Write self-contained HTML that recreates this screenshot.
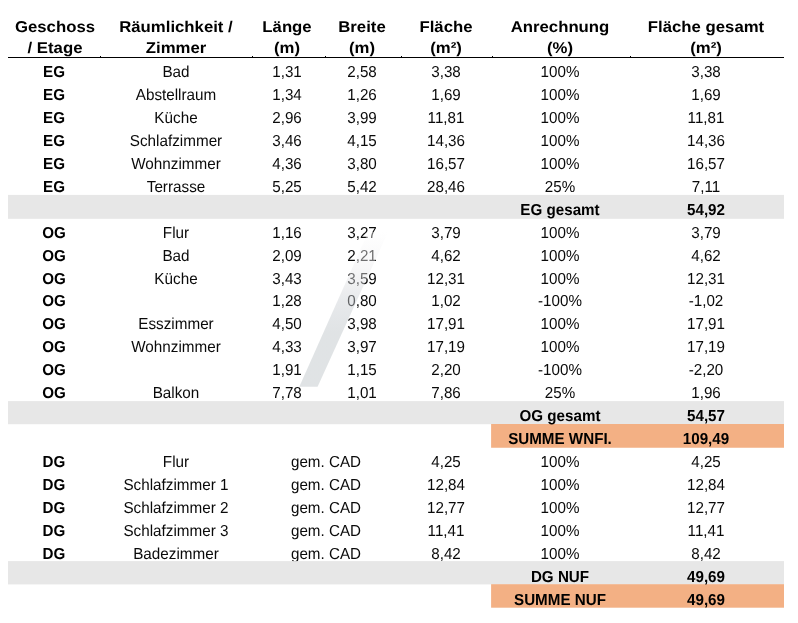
<!DOCTYPE html>
<html lang="de"><head><meta charset="utf-8"><title>Flächenberechnung</title>
<style>
html,body{margin:0;padding:0;background:#fff;}
body{width:798px;height:623px;position:relative;overflow:hidden;font-family:"Liberation Sans",sans-serif;color:#000;}
.t{text-rendering:geometricPrecision;position:absolute;width:300px;line-height:20px;text-align:center;white-space:nowrap;color:#0a0a0a;}
.b{font-weight:bold;color:#000;}
.bg{position:absolute;}
.hl{position:absolute;left:8px;top:57px;width:776px;height:1px;background:#000;}
.tick{position:absolute;top:56px;width:1px;height:1px;background:#000;}
svg.wm{position:absolute;left:0;top:0;}
</style></head><body>
<div class="hl"></div>
<div class="tick" style="left:100px"></div><div class="tick" style="left:252px"></div><div class="tick" style="left:325px"></div><div class="tick" style="left:401px"></div><div class="tick" style="left:492px"></div><div class="tick" style="left:630px"></div>
<div class="t b" style="left:-95.45px;top:18.00px;font-size:15.6px;transform:scaleX(1.074);">Geschoss</div>
<div class="t b" style="left:-95.45px;top:39.00px;font-size:15.6px;transform:scaleX(1.074);">/ Etage</div>
<div class="t b" style="left:25.55px;top:18.00px;font-size:15.6px;transform:scaleX(1.074);">Räumlichkeit /</div>
<div class="t b" style="left:25.55px;top:39.00px;font-size:15.6px;transform:scaleX(1.074);">Zimmer</div>
<div class="t b" style="left:137.40px;top:18.00px;font-size:15.6px;transform:scaleX(1.074);">Länge</div>
<div class="t b" style="left:137.40px;top:39.00px;font-size:15.6px;transform:scaleX(1.074);">(m)</div>
<div class="t b" style="left:211.60px;top:18.00px;font-size:15.6px;transform:scaleX(1.074);">Breite</div>
<div class="t b" style="left:211.60px;top:39.00px;font-size:15.6px;transform:scaleX(1.074);">(m)</div>
<div class="t b" style="left:295.70px;top:18.00px;font-size:15.6px;transform:scaleX(1.074);">Fläche</div>
<div class="t b" style="left:295.70px;top:39.00px;font-size:15.6px;transform:scaleX(1.074);">(m²)</div>
<div class="t b" style="left:409.95px;top:18.00px;font-size:15.6px;transform:scaleX(1.074);">Anrechnung</div>
<div class="t b" style="left:409.95px;top:39.00px;font-size:15.6px;transform:scaleX(1.074);">(%)</div>
<div class="t b" style="left:556.15px;top:18.00px;font-size:15.6px;transform:scaleX(1.074);">Fläche gesamt</div>
<div class="t b" style="left:556.15px;top:39.00px;font-size:15.6px;transform:scaleX(1.074);">(m²)</div>
<div class="t b" style="left:-95.55px;top:63.00px;font-size:15.9px;transform:scaleX(0.955);">EG</div>
<div class="t " style="left:25.55px;top:63.00px;font-size:15.9px;transform:scaleX(0.96);">Bad</div>
<div class="t " style="left:137.40px;top:63.00px;font-size:15.9px;transform:scaleX(0.955);">1,31</div>
<div class="t " style="left:211.60px;top:63.00px;font-size:15.9px;transform:scaleX(0.955);">2,58</div>
<div class="t " style="left:295.70px;top:63.00px;font-size:15.9px;transform:scaleX(0.955);">3,38</div>
<div class="t " style="left:409.95px;top:63.00px;font-size:15.9px;transform:scaleX(0.955);">100%</div>
<div class="t " style="left:556.15px;top:63.00px;font-size:15.9px;transform:scaleX(0.955);">3,38</div>
<div class="t b" style="left:-95.55px;top:86.00px;font-size:15.9px;transform:scaleX(0.955);">EG</div>
<div class="t " style="left:25.55px;top:86.00px;font-size:15.9px;transform:scaleX(0.96);">Abstellraum</div>
<div class="t " style="left:137.40px;top:86.00px;font-size:15.9px;transform:scaleX(0.955);">1,34</div>
<div class="t " style="left:211.60px;top:86.00px;font-size:15.9px;transform:scaleX(0.955);">1,26</div>
<div class="t " style="left:295.70px;top:86.00px;font-size:15.9px;transform:scaleX(0.955);">1,69</div>
<div class="t " style="left:409.95px;top:86.00px;font-size:15.9px;transform:scaleX(0.955);">100%</div>
<div class="t " style="left:556.15px;top:86.00px;font-size:15.9px;transform:scaleX(0.955);">1,69</div>
<div class="t b" style="left:-95.55px;top:109.00px;font-size:15.9px;transform:scaleX(0.955);">EG</div>
<div class="t " style="left:25.55px;top:109.00px;font-size:15.9px;transform:scaleX(0.96);">Küche</div>
<div class="t " style="left:137.40px;top:109.00px;font-size:15.9px;transform:scaleX(0.955);">2,96</div>
<div class="t " style="left:211.60px;top:109.00px;font-size:15.9px;transform:scaleX(0.955);">3,99</div>
<div class="t " style="left:295.70px;top:109.00px;font-size:15.9px;transform:scaleX(0.955);">11,81</div>
<div class="t " style="left:409.95px;top:109.00px;font-size:15.9px;transform:scaleX(0.955);">100%</div>
<div class="t " style="left:556.15px;top:109.00px;font-size:15.9px;transform:scaleX(0.955);">11,81</div>
<div class="t b" style="left:-95.55px;top:132.00px;font-size:15.9px;transform:scaleX(0.955);">EG</div>
<div class="t " style="left:25.55px;top:132.00px;font-size:15.9px;transform:scaleX(0.96);">Schlafzimmer</div>
<div class="t " style="left:137.40px;top:132.00px;font-size:15.9px;transform:scaleX(0.955);">3,46</div>
<div class="t " style="left:211.60px;top:132.00px;font-size:15.9px;transform:scaleX(0.955);">4,15</div>
<div class="t " style="left:295.70px;top:132.00px;font-size:15.9px;transform:scaleX(0.955);">14,36</div>
<div class="t " style="left:409.95px;top:132.00px;font-size:15.9px;transform:scaleX(0.955);">100%</div>
<div class="t " style="left:556.15px;top:132.00px;font-size:15.9px;transform:scaleX(0.955);">14,36</div>
<div class="t b" style="left:-95.55px;top:155.00px;font-size:15.9px;transform:scaleX(0.955);">EG</div>
<div class="t " style="left:25.55px;top:155.00px;font-size:15.9px;transform:scaleX(0.96);">Wohnzimmer</div>
<div class="t " style="left:137.40px;top:155.00px;font-size:15.9px;transform:scaleX(0.955);">4,36</div>
<div class="t " style="left:211.60px;top:155.00px;font-size:15.9px;transform:scaleX(0.955);">3,80</div>
<div class="t " style="left:295.70px;top:155.00px;font-size:15.9px;transform:scaleX(0.955);">16,57</div>
<div class="t " style="left:409.95px;top:155.00px;font-size:15.9px;transform:scaleX(0.955);">100%</div>
<div class="t " style="left:556.15px;top:155.00px;font-size:15.9px;transform:scaleX(0.955);">16,57</div>
<div class="t b" style="left:-95.55px;top:178.00px;font-size:15.9px;transform:scaleX(0.955);">EG</div>
<div class="t " style="left:25.55px;top:178.00px;font-size:15.9px;transform:scaleX(0.96);">Terrasse</div>
<div class="t " style="left:137.40px;top:178.00px;font-size:15.9px;transform:scaleX(0.955);">5,25</div>
<div class="t " style="left:211.60px;top:178.00px;font-size:15.9px;transform:scaleX(0.955);">5,42</div>
<div class="t " style="left:295.70px;top:178.00px;font-size:15.9px;transform:scaleX(0.955);">28,46</div>
<div class="t " style="left:409.95px;top:178.00px;font-size:15.9px;transform:scaleX(0.955);">25%</div>
<div class="t " style="left:556.15px;top:178.00px;font-size:15.9px;transform:scaleX(0.955);">7,11</div>
<div class="t b" style="left:-95.55px;top:224.00px;font-size:15.9px;transform:scaleX(0.955);">OG</div>
<div class="t " style="left:25.55px;top:224.00px;font-size:15.9px;transform:scaleX(0.96);">Flur</div>
<div class="t " style="left:137.40px;top:224.00px;font-size:15.9px;transform:scaleX(0.955);">1,16</div>
<div class="t " style="left:211.60px;top:224.00px;font-size:15.9px;transform:scaleX(0.955);">3,27</div>
<div class="t " style="left:295.70px;top:224.00px;font-size:15.9px;transform:scaleX(0.955);">3,79</div>
<div class="t " style="left:409.95px;top:224.00px;font-size:15.9px;transform:scaleX(0.955);">100%</div>
<div class="t " style="left:556.15px;top:224.00px;font-size:15.9px;transform:scaleX(0.955);">3,79</div>
<div class="t b" style="left:-95.55px;top:247.00px;font-size:15.9px;transform:scaleX(0.955);">OG</div>
<div class="t " style="left:25.55px;top:247.00px;font-size:15.9px;transform:scaleX(0.96);">Bad</div>
<div class="t " style="left:137.40px;top:247.00px;font-size:15.9px;transform:scaleX(0.955);">2,09</div>
<div class="t " style="left:211.60px;top:247.00px;font-size:15.9px;transform:scaleX(0.955);">2,21</div>
<div class="t " style="left:295.70px;top:247.00px;font-size:15.9px;transform:scaleX(0.955);">4,62</div>
<div class="t " style="left:409.95px;top:247.00px;font-size:15.9px;transform:scaleX(0.955);">100%</div>
<div class="t " style="left:556.15px;top:247.00px;font-size:15.9px;transform:scaleX(0.955);">4,62</div>
<div class="t b" style="left:-95.55px;top:270.00px;font-size:15.9px;transform:scaleX(0.955);">OG</div>
<div class="t " style="left:25.55px;top:270.00px;font-size:15.9px;transform:scaleX(0.96);">Küche</div>
<div class="t " style="left:137.40px;top:270.00px;font-size:15.9px;transform:scaleX(0.955);">3,43</div>
<div class="t " style="left:211.60px;top:270.00px;font-size:15.9px;transform:scaleX(0.955);">3,59</div>
<div class="t " style="left:295.70px;top:270.00px;font-size:15.9px;transform:scaleX(0.955);">12,31</div>
<div class="t " style="left:409.95px;top:270.00px;font-size:15.9px;transform:scaleX(0.955);">100%</div>
<div class="t " style="left:556.15px;top:270.00px;font-size:15.9px;transform:scaleX(0.955);">12,31</div>
<div class="t b" style="left:-95.55px;top:292.00px;font-size:15.9px;transform:scaleX(0.955);">OG</div>
<div class="t " style="left:137.40px;top:292.00px;font-size:15.9px;transform:scaleX(0.955);">1,28</div>
<div class="t " style="left:211.60px;top:292.00px;font-size:15.9px;transform:scaleX(0.955);">0,80</div>
<div class="t " style="left:295.70px;top:292.00px;font-size:15.9px;transform:scaleX(0.955);">1,02</div>
<div class="t " style="left:409.95px;top:292.00px;font-size:15.9px;transform:scaleX(0.955);">-100%</div>
<div class="t " style="left:556.15px;top:292.00px;font-size:15.9px;transform:scaleX(0.955);">-1,02</div>
<div class="t b" style="left:-95.55px;top:315.00px;font-size:15.9px;transform:scaleX(0.955);">OG</div>
<div class="t " style="left:25.55px;top:315.00px;font-size:15.9px;transform:scaleX(0.96);">Esszimmer</div>
<div class="t " style="left:137.40px;top:315.00px;font-size:15.9px;transform:scaleX(0.955);">4,50</div>
<div class="t " style="left:211.60px;top:315.00px;font-size:15.9px;transform:scaleX(0.955);">3,98</div>
<div class="t " style="left:295.70px;top:315.00px;font-size:15.9px;transform:scaleX(0.955);">17,91</div>
<div class="t " style="left:409.95px;top:315.00px;font-size:15.9px;transform:scaleX(0.955);">100%</div>
<div class="t " style="left:556.15px;top:315.00px;font-size:15.9px;transform:scaleX(0.955);">17,91</div>
<div class="t b" style="left:-95.55px;top:338.00px;font-size:15.9px;transform:scaleX(0.955);">OG</div>
<div class="t " style="left:25.55px;top:338.00px;font-size:15.9px;transform:scaleX(0.96);">Wohnzimmer</div>
<div class="t " style="left:137.40px;top:338.00px;font-size:15.9px;transform:scaleX(0.955);">4,33</div>
<div class="t " style="left:211.60px;top:338.00px;font-size:15.9px;transform:scaleX(0.955);">3,97</div>
<div class="t " style="left:295.70px;top:338.00px;font-size:15.9px;transform:scaleX(0.955);">17,19</div>
<div class="t " style="left:409.95px;top:338.00px;font-size:15.9px;transform:scaleX(0.955);">100%</div>
<div class="t " style="left:556.15px;top:338.00px;font-size:15.9px;transform:scaleX(0.955);">17,19</div>
<div class="t b" style="left:-95.55px;top:361.00px;font-size:15.9px;transform:scaleX(0.955);">OG</div>
<div class="t " style="left:137.40px;top:361.00px;font-size:15.9px;transform:scaleX(0.955);">1,91</div>
<div class="t " style="left:211.60px;top:361.00px;font-size:15.9px;transform:scaleX(0.955);">1,15</div>
<div class="t " style="left:295.70px;top:361.00px;font-size:15.9px;transform:scaleX(0.955);">2,20</div>
<div class="t " style="left:409.95px;top:361.00px;font-size:15.9px;transform:scaleX(0.955);">-100%</div>
<div class="t " style="left:556.15px;top:361.00px;font-size:15.9px;transform:scaleX(0.955);">-2,20</div>
<div class="t b" style="left:-95.55px;top:384.00px;font-size:15.9px;transform:scaleX(0.955);">OG</div>
<div class="t " style="left:25.55px;top:384.00px;font-size:15.9px;transform:scaleX(0.96);">Balkon</div>
<div class="t " style="left:137.40px;top:384.00px;font-size:15.9px;transform:scaleX(0.955);">7,78</div>
<div class="t " style="left:211.60px;top:384.00px;font-size:15.9px;transform:scaleX(0.955);">1,01</div>
<div class="t " style="left:295.70px;top:384.00px;font-size:15.9px;transform:scaleX(0.955);">7,86</div>
<div class="t " style="left:409.95px;top:384.00px;font-size:15.9px;transform:scaleX(0.955);">25%</div>
<div class="t " style="left:556.15px;top:384.00px;font-size:15.9px;transform:scaleX(0.955);">1,96</div>
<div class="t b" style="left:-95.55px;top:453.00px;font-size:15.9px;transform:scaleX(0.955);">DG</div>
<div class="t " style="left:25.55px;top:453.00px;font-size:15.9px;transform:scaleX(0.96);">Flur</div>
<div class="t " style="left:175.60px;top:453.00px;font-size:15.9px;transform:scaleX(0.955);">gem. CAD</div>
<div class="t " style="left:295.70px;top:453.00px;font-size:15.9px;transform:scaleX(0.955);">4,25</div>
<div class="t " style="left:409.95px;top:453.00px;font-size:15.9px;transform:scaleX(0.955);">100%</div>
<div class="t " style="left:556.15px;top:453.00px;font-size:15.9px;transform:scaleX(0.955);">4,25</div>
<div class="t b" style="left:-95.55px;top:476.00px;font-size:15.9px;transform:scaleX(0.955);">DG</div>
<div class="t " style="left:25.55px;top:476.00px;font-size:15.9px;transform:scaleX(0.96);">Schlafzimmer 1</div>
<div class="t " style="left:175.60px;top:476.00px;font-size:15.9px;transform:scaleX(0.955);">gem. CAD</div>
<div class="t " style="left:295.70px;top:476.00px;font-size:15.9px;transform:scaleX(0.955);">12,84</div>
<div class="t " style="left:409.95px;top:476.00px;font-size:15.9px;transform:scaleX(0.955);">100%</div>
<div class="t " style="left:556.15px;top:476.00px;font-size:15.9px;transform:scaleX(0.955);">12,84</div>
<div class="t b" style="left:-95.55px;top:499.00px;font-size:15.9px;transform:scaleX(0.955);">DG</div>
<div class="t " style="left:25.55px;top:499.00px;font-size:15.9px;transform:scaleX(0.96);">Schlafzimmer 2</div>
<div class="t " style="left:175.60px;top:499.00px;font-size:15.9px;transform:scaleX(0.955);">gem. CAD</div>
<div class="t " style="left:295.70px;top:499.00px;font-size:15.9px;transform:scaleX(0.955);">12,77</div>
<div class="t " style="left:409.95px;top:499.00px;font-size:15.9px;transform:scaleX(0.955);">100%</div>
<div class="t " style="left:556.15px;top:499.00px;font-size:15.9px;transform:scaleX(0.955);">12,77</div>
<div class="t b" style="left:-95.55px;top:522.00px;font-size:15.9px;transform:scaleX(0.955);">DG</div>
<div class="t " style="left:25.55px;top:522.00px;font-size:15.9px;transform:scaleX(0.96);">Schlafzimmer 3</div>
<div class="t " style="left:175.60px;top:522.00px;font-size:15.9px;transform:scaleX(0.955);">gem. CAD</div>
<div class="t " style="left:295.70px;top:522.00px;font-size:15.9px;transform:scaleX(0.955);">11,41</div>
<div class="t " style="left:409.95px;top:522.00px;font-size:15.9px;transform:scaleX(0.955);">100%</div>
<div class="t " style="left:556.15px;top:522.00px;font-size:15.9px;transform:scaleX(0.955);">11,41</div>
<div class="t b" style="left:-95.55px;top:545.00px;font-size:15.9px;transform:scaleX(0.955);">DG</div>
<div class="t " style="left:25.55px;top:545.00px;font-size:15.9px;transform:scaleX(0.96);">Badezimmer</div>
<div class="t " style="left:175.60px;top:545.00px;font-size:15.9px;transform:scaleX(0.955);">gem. CAD</div>
<div class="t " style="left:295.70px;top:545.00px;font-size:15.9px;transform:scaleX(0.955);">8,42</div>
<div class="t " style="left:409.95px;top:545.00px;font-size:15.9px;transform:scaleX(0.955);">100%</div>
<div class="t " style="left:556.15px;top:545.00px;font-size:15.9px;transform:scaleX(0.955);">8,42</div>
<svg class="wm" width="798" height="623" viewBox="0 0 798 623">
<rect x="8" y="194.9" width="776" height="23.9" fill="#e7e7e7"/>
<rect x="8" y="401.1" width="776" height="23.1" fill="#e7e7e7"/>
<rect x="491.1" y="424" width="292.9" height="23.75" fill="#f3b084"/>
<rect x="8" y="561.1" width="776" height="23.3" fill="#e7e7e7"/>
<rect x="491.1" y="584.2" width="292.9" height="23.5" fill="#f3b084"/>
</svg>
<div class="t b" style="left:409.95px;top:201.00px;font-size:15.9px;transform:scaleX(0.955);">EG gesamt</div>
<div class="t b" style="left:556.15px;top:201.00px;font-size:15.9px;transform:scaleX(0.955);">54,92</div>
<div class="t b" style="left:409.95px;top:407.00px;font-size:15.9px;transform:scaleX(0.955);">OG gesamt</div>
<div class="t b" style="left:556.15px;top:407.00px;font-size:15.9px;transform:scaleX(0.955);">54,57</div>
<div class="t b" style="left:409.95px;top:430.00px;font-size:15.9px;transform:scaleX(0.955);">SUMME WNFI.</div>
<div class="t b" style="left:556.15px;top:430.00px;font-size:15.9px;transform:scaleX(0.955);">109,49</div>
<div class="t b" style="left:409.95px;top:568.00px;font-size:15.9px;transform:scaleX(0.955);">DG NUF</div>
<div class="t b" style="left:556.15px;top:568.00px;font-size:15.9px;transform:scaleX(0.955);">49,69</div>
<div class="t b" style="left:409.95px;top:591.00px;font-size:15.9px;transform:scaleX(0.955);">SUMME NUF</div>
<div class="t b" style="left:556.15px;top:591.00px;font-size:15.9px;transform:scaleX(0.955);">49,69</div>
<svg class="wm" width="798" height="623" viewBox="0 0 798 623">
<defs><linearGradient id="g" x1="0" y1="0" x2="0" y2="1">
<stop offset="0" stop-color="#ffffff" stop-opacity="0.4"/>
<stop offset="0.25" stop-color="#ebebed" stop-opacity="0.45"/>
<stop offset="0.45" stop-color="#caced3" stop-opacity="0.45"/>
<stop offset="0.65" stop-color="#bac1c5" stop-opacity="0.45"/>
<stop offset="1" stop-color="#bac1c5" stop-opacity="0.45"/>
</linearGradient></defs>
<polygon points="299.3,386.8 317.6,386.8 388,232 368.2,232" fill="url(#g)"/>
</svg>
</body></html>
